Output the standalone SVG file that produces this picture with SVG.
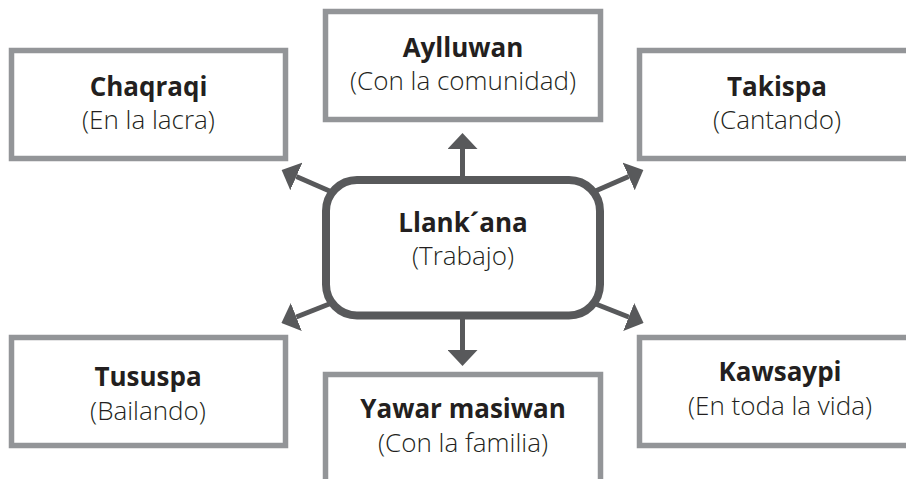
<svg xmlns="http://www.w3.org/2000/svg" width="906" height="479" viewBox="0 0 906 479">
  <defs>
    <style>
      .box { fill: #ffffff; stroke: #939598; stroke-width: 5.5; }
      .hub { fill: #ffffff; stroke: #58595b; stroke-width: 8; }
      .conn { stroke: #58595b; stroke-width: 5; fill: none; marker-end: url(#head); }
      text { font-family: "Open Sans", "Noto Sans", "Liberation Sans", sans-serif; font-size: 26px; fill: #231f20; text-anchor: middle; }
      .t { font-weight: 700; }
      .s { font-weight: 300; }
    </style>
    <marker id="head" markerUnits="userSpaceOnUse" viewBox="0 0 16 30" refX="0" refY="15" markerWidth="16" markerHeight="30" orient="auto">
      <path d="M0,0 L16,15 L0,30 Z" fill="#58595b"/>
    </marker>
  </defs>
  <rect width="906" height="479" fill="#ffffff"/>

  <g id="connectors">
    <line class="conn" x1="462.5" y1="178" x2="462.5" y2="149"/>
    <line class="conn" x1="462.5" y1="317" x2="462.5" y2="350"/>
    <line class="conn" x1="333" y1="192.5" x2="296.3" y2="176.5"/>
    <line class="conn" x1="592" y1="192.5" x2="628.7" y2="176.5"/>
    <line class="conn" x1="333" y1="302.5" x2="296.3" y2="317"/>
    <line class="conn" x1="592" y1="302.5" x2="628.7" y2="317"/>
  </g>

  <g id="llankana">
    <rect class="hub" x="326" y="180" width="274" height="135.5" rx="31" ry="31"/>
    <text class="t" x="463" y="232">Llank´ana</text>
    <text class="s" x="463" y="265">(Trabajo)</text>
  </g>

  <g id="chaqraqi">
    <rect class="box" x="11.5" y="50.5" width="274" height="108"/>
    <text class="t" x="148.5" y="96">Chaqraqi</text>
    <text class="s" x="148.5" y="129">(En la lacra)</text>
  </g>

  <g id="aylluwan">
    <rect class="box" x="325.5" y="11.5" width="275" height="108"/>
    <text class="t" x="463" y="57">Aylluwan</text>
    <text class="s" x="463" y="90">(Con la comunidad)</text>
  </g>

  <g id="takispa">
    <rect class="box" x="639.5" y="50.5" width="276" height="108"/>
    <text class="t" x="777" y="96">Takispa</text>
    <text class="s" x="777" y="129">(Cantando)</text>
  </g>

  <g id="tususpa">
    <rect class="box" x="11.5" y="337.5" width="274" height="108"/>
    <text class="t" x="148" y="386">Tususpa</text>
    <text class="s" x="148" y="420">(Bailando)</text>
  </g>

  <g id="yawar-masiwan">
    <rect class="box" x="325.5" y="374.5" width="275" height="108"/>
    <text class="t" x="463" y="418">Yawar masiwan</text>
    <text class="s" x="463" y="452">(Con la familia)</text>
  </g>

  <g id="kawsaypi">
    <rect class="box" x="639.5" y="337.5" width="276" height="108"/>
    <text class="t" x="780" y="381">Kawsaypi</text>
    <text class="s" x="780" y="415">(En toda la vida)</text>
  </g>
</svg>
